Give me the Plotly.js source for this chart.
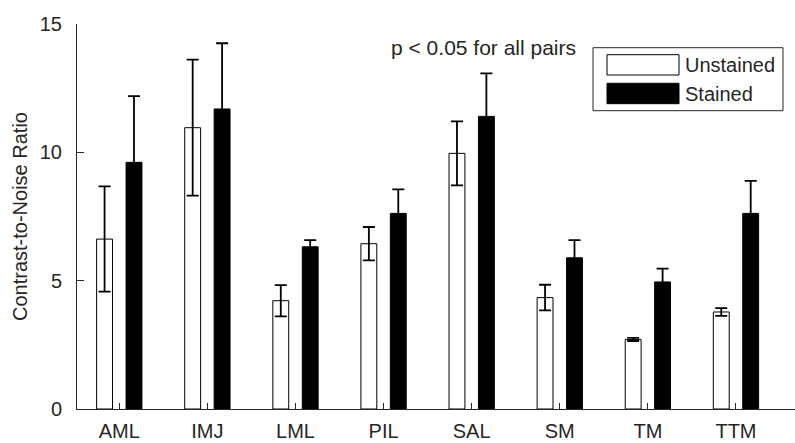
<!DOCTYPE html>
<html>
<head>
<meta charset="utf-8">
<script src="https://cdn.plot.ly/plotly-3.0.1.min.js"></script>
<style>html,body{margin:0;padding:0;background:#fff;}#chart{width:795px;height:443px;}</style>
</head>
<body>
<div id="chart"></div>
<script>
const categories = ['AML','IMJ','LML','PIL','SAL','SM','TM','TTM'];
const seriesNames = ['Unstained','Stained'];
const unstained = [6.62, 10.96, 4.22, 6.44, 9.96, 4.34, 2.71, 3.78];
const unstainedErr = [2.05, 2.65, 0.61, 0.65, 1.25, 0.5, 0.06, 0.15];
const stained = [9.61, 11.69, 6.32, 7.62, 11.40, 5.89, 4.95, 7.62];
const stainedErr = [2.58, 2.56, 0.26, 0.94, 1.68, 0.69, 0.52, 1.27];
const yTicks = [0, 5, 10, 15];
const note = 'p < 0.05 for all pairs';

const txt = '#262626';
const font = {family: 'Liberation Sans, Arial, sans-serif', size: 20, color: txt};
const noteFont = {family: 'Liberation Sans, Arial, sans-serif', size: 21, color: txt};

const traces = [
  {type:'bar', name: seriesNames[0], x: categories, y: unstained,
   marker:{color:'#ffffff', line:{color:'#000000', width:1}},
   error_y:{type:'data', array: unstainedErr, visible:true, color:'#000000', thickness:1.8, width:6}},
  {type:'bar', name: seriesNames[1], x: categories, y: stained,
   marker:{color:'#000000', line:{color:'#000000', width:1}},
   error_y:{type:'data', array: stainedErr, visible:true, color:'#000000', thickness:1.8, width:6}}
];

function px(x){ return (x-77)/718; }
function py(y){ return (409-y)/385; }

const layout = {
  width: 795, height: 443,
  margin: {l:77, r:0, t:24, b:34},
  paper_bgcolor:'#fff', plot_bgcolor:'#fff',
  font: font,
  showlegend: false,
  barmode: 'group', bargap: 0.332, bargroupgap: 0.46,
  xaxis: {type:'category', range:[-0.48, 7.67], showline:true, linecolor:txt, linewidth:1,
          ticks:'inside', ticklen:6, tickcolor:txt, showgrid:false, zeroline:false,
          tickfont: font, ticklabelstandoff: 4, fixedrange:true},
  yaxis: {range:[0,15], tickvals: yTicks, showline:true, linecolor:txt, linewidth:1,
          ticks:'inside', ticklen:7, tickcolor:txt, showgrid:false, zeroline:false,
          tickfont: font, ticklabelstandoff: 10,
          title:{text:'Contrast-to-Noise Ratio', font: font, standoff: 6}},
  shapes: [
    {type:'rect', xref:'paper', yref:'paper', x0:px(593), x1:px(783), y0:py(110.7), y1:py(47.7),
     line:{color:txt, width:1}, fillcolor:'#ffffff'},
    {type:'rect', xref:'paper', yref:'paper', x0:px(607), x1:px(679), y0:py(75), y1:py(54.7),
     line:{color:'#000', width:1}, fillcolor:'#ffffff'},
    {type:'rect', xref:'paper', yref:'paper', x0:px(607), x1:px(679), y0:py(103.7), y1:py(83.3),
     line:{color:'#000', width:1}, fillcolor:'#000000'}
  ],
  annotations: [
    {xref:'paper', yref:'paper', x:px(389), y:py(47), xanchor:'left', yanchor:'middle',
     text: note, showarrow:false, font: noteFont},
    {xref:'paper', yref:'paper', x:px(683), y:py(65), xanchor:'left', yanchor:'middle',
     text: seriesNames[0], showarrow:false, font: font},
    {xref:'paper', yref:'paper', x:px(683), y:py(94), xanchor:'left', yanchor:'middle',
     text: seriesNames[1], showarrow:false, font: font}
  ]
};

Plotly.newPlot('chart', traces, layout, {displayModeBar:false, staticPlot:true});
</script>
</body>
</html>
